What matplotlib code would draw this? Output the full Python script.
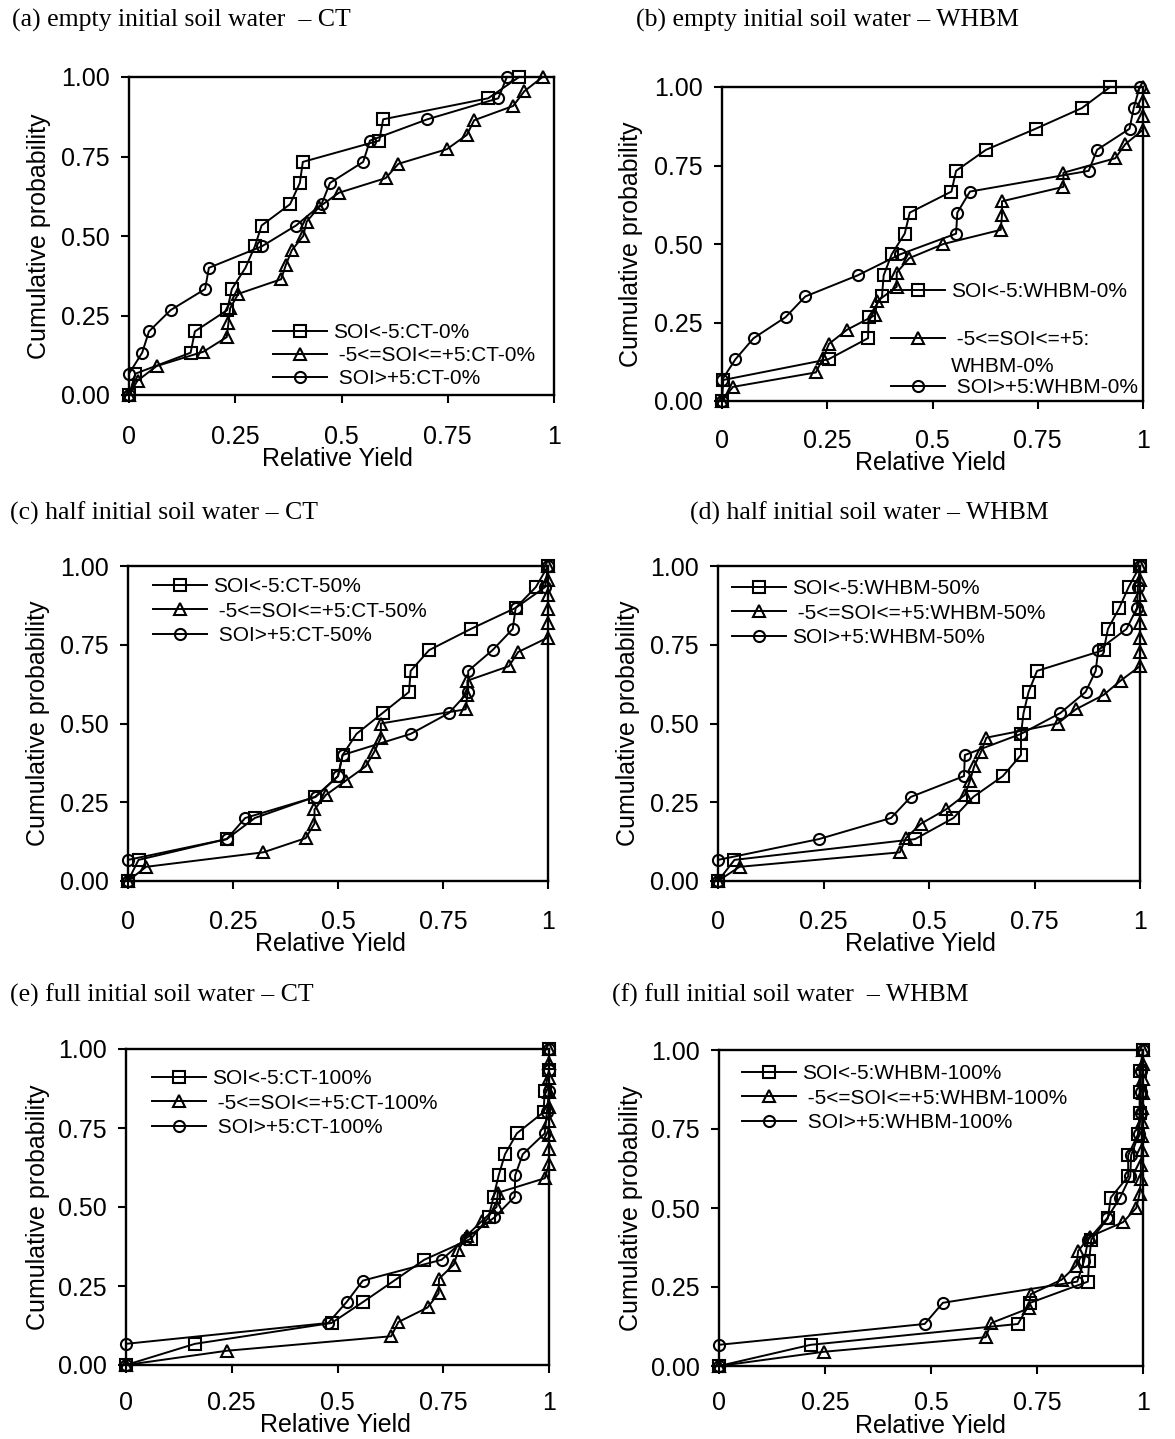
import matplotlib
matplotlib.use("Agg")
import matplotlib.pyplot as plt

W, H = 1175, 1439

# cumulative probability levels
P15 = [0, 0.067, 0.133, 0.2, 0.267, 0.333, 0.4, 0.467, 0.533, 0.6, 0.667, 0.733, 0.8, 0.867, 0.933, 1.0]
P22 = [0, 0.045, 0.091, 0.136, 0.182, 0.227, 0.273, 0.318, 0.364, 0.409, 0.455, 0.5, 0.545,
       0.591, 0.636, 0.682, 0.727, 0.773, 0.818, 0.864, 0.909, 0.955, 1.0]

# relative yields per panel
a_sq = [0, 0.015, 0.145, 0.155, 0.231, 0.242, 0.274, 0.296, 0.312, 0.379, 0.402, 0.409, 0.589, 0.598, 0.845, 0.918]
a_tr = [0, 0.02, 0.065, 0.175, 0.23, 0.234, 0.238, 0.257, 0.358, 0.369, 0.383, 0.41, 0.418, 0.447, 0.494,
        0.604, 0.634, 0.748, 0.795, 0.812, 0.904, 0.93, 0.973]
a_ci = [0, 0.0, 0.031, 0.047, 0.098, 0.179, 0.188, 0.312, 0.393, 0.453, 0.473, 0.551, 0.567, 0.702, 0.869, 0.889]

b_sq = [0, 0.003, 0.253, 0.347, 0.348, 0.38, 0.384, 0.403, 0.434, 0.446, 0.545, 0.556, 0.627, 0.745, 0.855, 0.922]
b_tr = [0, 0.026, 0.223, 0.24, 0.254, 0.297, 0.363, 0.369, 0.415, 0.415, 0.445, 0.526, 0.662, 0.665, 0.665,
        0.811, 0.811, 0.934, 0.958, 1.0, 1.0, 1.0, 1.0]
b_ci = [0, 0.0, 0.032, 0.075, 0.151, 0.198, 0.322, 0.423, 0.556, 0.559, 0.589, 0.871, 0.891, 0.968, 0.978, 0.992]

c_sq = [0, 0.025, 0.235, 0.302, 0.445, 0.5, 0.511, 0.544, 0.606, 0.669, 0.673, 0.717, 0.816, 0.923, 0.971, 1.0]
c_tr = [0, 0.043, 0.322, 0.423, 0.444, 0.444, 0.471, 0.518, 0.566, 0.586, 0.602, 0.602, 0.804, 0.808, 0.808,
        0.907, 0.929, 1.0, 1.0, 1.0, 1.0, 1.0, 1.0]
c_ci = [0, 0.0, 0.235, 0.279, 0.447, 0.5, 0.511, 0.673, 0.764, 0.81, 0.81, 0.868, 0.916, 0.923, 0.993, 1.0]

d_sq = [0, 0.039, 0.467, 0.558, 0.605, 0.675, 0.718, 0.718, 0.724, 0.736, 0.756, 0.914, 0.924, 0.951, 0.973, 1.0]
d_tr = [0, 0.051, 0.431, 0.445, 0.481, 0.54, 0.585, 0.597, 0.607, 0.623, 0.636, 0.805, 0.848, 0.914, 0.954,
        1.0, 1.0, 1.0, 1.0, 1.0, 1.0, 1.0, 1.0]
d_ci = [0, 0.0, 0.239, 0.41, 0.457, 0.583, 0.585, 0.718, 0.811, 0.871, 0.895, 0.901, 0.968, 0.993, 0.995, 1.0]

e_sq = [0, 0.163, 0.486, 0.561, 0.634, 0.705, 0.816, 0.857, 0.869, 0.881, 0.896, 0.924, 0.987, 0.99, 1.0, 1.0]
e_tr = [0, 0.238, 0.627, 0.644, 0.713, 0.739, 0.74, 0.775, 0.786, 0.805, 0.841, 0.876, 0.879, 0.99,
        1.0, 1.0, 1.0, 1.0, 1.0, 1.0, 1.0, 1.0, 1.0]
e_ci = [0, 0.0, 0.478, 0.522, 0.56, 0.746, 0.803, 0.871, 0.919, 0.92, 0.938, 0.99, 0.995, 1.0, 1.0, 1.0]

f_sq = [0, 0.216, 0.705, 0.734, 0.87, 0.873, 0.878, 0.917, 0.924, 0.965, 0.965, 0.988, 0.992, 0.992, 0.992, 1.0]
f_tr = [0, 0.247, 0.629, 0.642, 0.73, 0.735, 0.808, 0.843, 0.847, 0.874, 0.953, 0.984, 0.992,
        0.995, 0.995, 0.997, 0.997, 0.998, 0.998, 1.0, 1.0, 1.0, 1.0]
f_ci = [0, 0.0, 0.485, 0.528, 0.845, 0.861, 0.871, 0.915, 0.946, 0.97, 0.972, 0.99, 0.995, 0.995, 0.995, 1.0]

titles = ["(a) empty initial soil water  \u2013 CT", "(b) empty initial soil water \u2013 WHBM",
          "(c) half initial soil water \u2013 CT", "(d) half initial soil water \u2013 WHBM",
          "(e) full initial soil water \u2013 CT", "(f) full initial soil water  \u2013 WHBM"]
legend_labels = [
    ["SOI<-5:CT-0%", " -5<=SOI<=+5:CT-0%", " SOI>+5:CT-0%"],
    ["SOI<-5:WHBM-0%", " -5<=SOI<=+5:", " SOI>+5:WHBM-0%"],
    ["SOI<-5:CT-50%", " -5<=SOI<=+5:CT-50%", " SOI>+5:CT-50%"],
    ["SOI<-5:WHBM-50%", " -5<=SOI<=+5:WHBM-50%", "SOI>+5:WHBM-50%"],
    ["SOI<-5:CT-100%", " -5<=SOI<=+5:CT-100%", " SOI>+5:CT-100%"],
    ["SOI<-5:WHBM-100%", " -5<=SOI<=+5:WHBM-100%", " SOI>+5:WHBM-100%"],
]
xticks = [0, 0.25, 0.5, 0.75, 1]
xticklabels = ["0", "0.25", "0.5", "0.75", "1"]
yticks = [0, 0.25, 0.5, 0.75, 1]
yticklabels = ["0.00", "0.25", "0.50", "0.75", "1.00"]

series = [(a_sq, a_tr, a_ci), (b_sq, b_tr, b_ci), (c_sq, c_tr, c_ci),
          (d_sq, d_tr, d_ci), (e_sq, e_tr, e_ci), (f_sq, f_tr, f_ci)]

# layout (pixel boxes: left, right, top, bottom)
boxes = [(129, 554, 77, 395), (722, 1143, 87, 401),
         (128, 548, 566, 881), (718, 1140, 566, 881),
         (126, 549, 1049, 1365), (719, 1143, 1050, 1366)]
title_pos = [(12, 20), (636, 20), (10, 513), (690, 513), (10, 995), (612, 995)]
ylabel_x = [39, 631, 38, 628, 38, 631]
xlabel_pos = [(337, 459), (930, 463), (330, 944), (920, 944), (335, 1425), (930, 1426)]
xtick_pad = [15.5, 14.5, 15, 15, 13, 12]
# legend: (handle start x, first row center y, labelspacing)
legend_pos = [(273, 335, 0.19), (891, 294, 1.39), (153, 589, 0.27),
              (732, 591, 0.27), (152, 1081, 0.27), (742, 1076, 0.27)]

plt.rcParams['font.family'] = ['Liberation Sans', 'DejaVu Sans']

fig = plt.figure(figsize=(W / 100, H / 100), dpi=100)
fig.patch.set_facecolor('white')

markers = ['s', '^', 'o']
msizes = [8, 9, 8]

for i in range(6):
    l, r, t, b = boxes[i]
    ax = fig.add_axes([l / W, 1 - b / H, (r - l) / W, (b - t) / H])
    handles = []
    for j, (xs, m, ms) in enumerate(zip(series[i], markers, msizes)):
        ys = P15 if len(xs) == 16 else P22
        ln, = ax.plot(xs, ys, color='black', lw=1.4, marker=m, ms=ms,
                      mfc='none', mec='black', mew=1.5, clip_on=False, zorder=3)
        handles.append(ln)
    ax.set_xlim(0, 1)
    ax.set_ylim(0, 1)
    ax.set_xticks(xticks)
    ax.set_xticklabels(xticklabels)
    ax.set_yticks(yticks)
    ax.set_yticklabels(yticklabels)
    ax.tick_params(axis='both', direction='out', length=6, width=1.5, labelsize=18,
                   top=False, right=False)
    ax.tick_params(axis='x', pad=xtick_pad[i])
    ax.tick_params(axis='y', pad=8)
    for sp in ax.spines.values():
        sp.set_linewidth(1.7)
    ax.set_ylabel("Cumulative probability", fontsize=18, va='center')
    ax.yaxis.set_label_coords((ylabel_x[i] - l) / (r - l), 0.5)
    ax.set_xlabel("Relative Yield", fontsize=18, va='center')
    xp, yp = xlabel_pos[i]
    ax.xaxis.set_label_coords((xp - l) / (r - l), (b - yp) / (b - t))

    hx, hy, ls = legend_pos[i]
    leg = ax.legend(handles, legend_labels[i], loc='upper left',
                    bbox_to_anchor=(hx / W, 1 - (hy - 12) / H), bbox_transform=fig.transFigure,
                    frameon=False, fontsize=15, handlelength=2.6, handletextpad=0.3,
                    labelspacing=ls, borderpad=0, borderaxespad=0)
    leg.set_zorder(5)

    tx, ty = title_pos[i]
    fig.text(tx / W, 1 - ty / H, titles[i], fontsize=18.5, family=['Liberation Serif', 'DejaVu Serif'],
             ha='left', va='center')

# continuation line of the wrapped legend label in panel (b)
fig.text(951 / W, 1 - 366 / H, "WHBM-0%", fontsize=15, ha='left', va='center')

fig.savefig("out.png", dpi=100, facecolor='white')
